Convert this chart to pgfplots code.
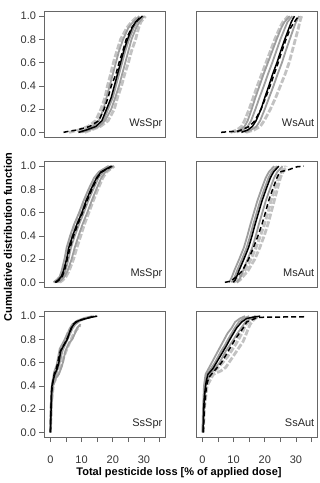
\documentclass[border=0pt]{standalone}
\usepackage{fontspec}
\setmainfont{Liberation Sans}
\usepackage{pgfplots}
\pgfplotsset{compat=1.18}
\definecolor{frm}{gray}{0.4}
\definecolor{gdk}{gray}{0.62}
\definecolor{glt}{gray}{0.76}
\pgfplotsset{
  panel/.style={width=121pt,height=125.5pt,scale only axis,
    xmin=-1.9,xmax=36.9,ymin=-0.04,ymax=1.04,
    axis line style={frm,line width=0.6pt},
    tick align=outside, major tick length=5pt,
    tick style={frm,line width=0.6pt},
    xtick={0,5,10,15,20,25,30,35}, xticklabels={0,,10,,20,,30,},
    ytick={0,0.2,0.4,0.6,0.8,1}, yticklabels={0.0,0.2,0.4,0.6,0.8,1.0},
    ticklabel style={font=\fontsize{11}{13}\selectfont, text=black!80},
    xticklabel style={yshift=-10pt},
    minor tick num=0, clip=true},
  leftcol/.style={ytick pos=left},
  rightcol/.style={ymajorticks=false},
  toprow/.style={xmajorticks=false},
  botrow/.style={xtick pos=bottom},
  gd/.style={gdk,line width=1.8pt,line join=round},
  gl/.style={glt,line width=2.8pt,dash pattern=on 6pt off 2pt,line join=round},
  bk/.style={black,line width=1.5pt,line join=round},
  bkd/.style={black,line width=1.5pt,dash pattern=on 5pt off 3pt,line join=round},
}
\newcommand{\plab}[1]{\node[anchor=base east,inner sep=0pt,font=\fontsize{11}{13}\selectfont,text=black!85,xshift=-3pt,yshift=10pt] at (rel axis cs:1,0) {#1};}
\begin{document}
\begin{tikzpicture}
\path[use as bounding box] (0pt,0pt) rectangle (320pt,483pt);
% ---------------- WsSpr
\begin{axis}[panel,leftcol,toprow,at={(44.5pt,346pt)}]
\addplot[gl] coordinates {(6,0)(9,0.02)(12,0.05)(14.5,0.1)(16.2,0.2)(17.5,0.3)(18.3,0.4)(19.3,0.5)(20.2,0.6)(21.3,0.7)(22.5,0.8)(24.5,0.9)(26,0.95)(28,1)};
\addplot[gl] coordinates {(11,0)(13,0.02)(16,0.05)(18.5,0.1)(20.5,0.2)(21.5,0.3)(22.8,0.4)(23.8,0.5)(25,0.6)(26,0.7)(27.3,0.8)(28.3,0.9)(29,0.95)(30.5,1)};
\addplot[gd] coordinates {(9,0)(11,0.02)(13.5,0.05)(15.5,0.1)(17,0.2)(18,0.3)(19,0.4)(20,0.5)(21,0.6)(22,0.7)(23.3,0.8)(25,0.9)(26.5,0.95)(28.5,1)};
\addplot[gd] coordinates {(10,0)(12.5,0.02)(15.5,0.05)(17.5,0.1)(19.5,0.2)(20.8,0.3)(22,0.4)(23,0.5)(24,0.6)(25,0.7)(26,0.8)(27.5,0.9)(28.5,0.95)(30,1)};
\addplot[gd] coordinates {(9.5,0)(12,0.02)(15,0.05)(17,0.1)(18.5,0.2)(20,0.3)(21,0.4)(22,0.5)(23,0.6)(24,0.7)(25.2,0.8)(26.7,0.9)(27.8,0.95)(29.8,1)};
\addplot[bkd] coordinates {(4.2,0)(6,0.01)(8.5,0.02)(12.5,0.05)(15.5,0.1)(17.2,0.2)(18.5,0.3)(19.5,0.4)(21,0.5)(22,0.6)(23.2,0.7)(24.3,0.8)(26,0.9)(27.5,0.95)(29,1)};
\addplot[bk] coordinates {(9,0)(11.5,0.02)(14.5,0.05)(16.5,0.1)(18,0.2)(19.5,0.3)(20.5,0.4)(21.5,0.5)(22.5,0.6)(23.5,0.7)(24.7,0.8)(26.2,0.9)(27.3,0.95)(29.5,1)};
\plab{WsSpr}
\end{axis}
% ---------------- WsAut
\begin{axis}[panel,rightcol,toprow,at={(196.5pt,346pt)}]
\addplot[gl] coordinates {(9,0)(11,0.02)(12.5,0.05)(13.5,0.1)(15,0.2)(16.3,0.3)(17.6,0.4)(19,0.5)(20.4,0.6)(21.8,0.7)(23.2,0.8)(24.8,0.9)(25.8,0.95)(27.5,1)};
\addplot[gl] coordinates {(14,0)(16.5,0.02)(18.5,0.05)(19.8,0.1)(21.8,0.2)(23.5,0.3)(25,0.4)(26.5,0.5)(27.8,0.6)(28.8,0.7)(29.8,0.8)(30.8,0.9)(31.2,0.95)(31.8,1)};
\addplot[gd] coordinates {(10,0)(12,0.02)(13.5,0.05)(14.5,0.1)(15.8,0.2)(17,0.3)(18.3,0.4)(19.6,0.5)(21,0.6)(22.4,0.7)(23.8,0.8)(25.3,0.9)(26.3,0.95)(28,1)};
\addplot[gd] coordinates {(11,0)(13,0.02)(14.5,0.05)(15.6,0.1)(17,0.2)(18.3,0.3)(19.7,0.4)(21,0.5)(22.4,0.6)(23.7,0.7)(25,0.8)(26.5,0.9)(27.3,0.95)(28.8,1)};
\addplot[gd] coordinates {(13.5,0)(15.5,0.02)(17.3,0.05)(18.5,0.1)(20,0.2)(21.4,0.3)(22.8,0.4)(24.1,0.5)(25.5,0.6)(26.7,0.7)(28,0.8)(29.3,0.9)(30,0.95)(31,1)};
\addplot[bkd] coordinates {(6,0)(8,0.005)(11.5,0.01)(15,0.05)(16.8,0.1)(18.8,0.2)(20.3,0.3)(21.7,0.4)(23,0.5)(24.3,0.6)(25.5,0.7)(26.8,0.8)(28.3,0.9)(29.5,0.95)(30.8,1)};
\addplot[bk] coordinates {(12.5,0)(14.5,0.02)(16,0.05)(17.2,0.1)(18.8,0.2)(20,0.3)(21.3,0.4)(22.5,0.5)(23.9,0.6)(25.1,0.7)(26.4,0.8)(27.8,0.9)(28.5,0.95)(29.5,1)};
\plab{WsAut}
\end{axis}
% ---------------- MsSpr
\begin{axis}[panel,leftcol,toprow,at={(44.5pt,196pt)}]
\addplot[gl] coordinates {(1.2,0)(2.2,0.02)(3.2,0.05)(3.9,0.1)(4.9,0.2)(5.6,0.3)(6.8,0.4)(8.2,0.5)(9.8,0.6)(11,0.7)(12.6,0.8)(14.4,0.9)(15.8,0.95)(19,1)};
\addplot[gl] coordinates {(3,0)(4,0.02)(5,0.05)(6,0.1)(7.4,0.2)(8.5,0.3)(9.7,0.4)(10.9,0.5)(12.3,0.6)(13.7,0.7)(15.2,0.8)(16.8,0.9)(18,0.95)(20.5,1)};
\addplot[gd] coordinates {(1,0)(2,0.02)(3,0.05)(3.6,0.1)(4.5,0.2)(5.2,0.3)(6.3,0.4)(7.6,0.5)(9.2,0.6)(10.6,0.7)(12.2,0.8)(14,0.9)(15.5,0.95)(18.5,1)};
\addplot[gd] coordinates {(2,0)(3,0.02)(4,0.05)(4.8,0.1)(5.8,0.2)(6.6,0.3)(7.8,0.4)(9.2,0.5)(10.7,0.6)(12.1,0.7)(13.7,0.8)(15.4,0.9)(16.8,0.95)(20,1)};
\addplot[gd] coordinates {(2.5,0)(3.5,0.02)(4.5,0.05)(5.5,0.1)(6.8,0.2)(7.8,0.3)(9,0.4)(10.3,0.5)(11.8,0.6)(13.2,0.7)(14.7,0.8)(16.3,0.9)(17.6,0.95)(20.3,1)};
\addplot[bkd] coordinates {(1.8,0)(2.8,0.02)(3.8,0.05)(4.5,0.1)(5.4,0.2)(6.3,0.3)(7.4,0.4)(8.8,0.5)(10.3,0.6)(11.7,0.7)(13.3,0.8)(15,0.9)(16.5,0.95)(19.8,1)};
\addplot[bk] coordinates {(1.5,0)(2.5,0.02)(3.5,0.05)(4.2,0.1)(5.2,0.2)(5.9,0.3)(7.1,0.4)(8.5,0.5)(10.1,0.6)(11.4,0.7)(13,0.8)(14.8,0.9)(16.2,0.95)(19.5,1)};
\plab{MsSpr}
\end{axis}
% ---------------- MsAut
\begin{axis}[panel,rightcol,toprow,at={(196.5pt,196pt)}]
\addplot[gl] coordinates {(10,0)(11,0.02)(12,0.05)(13.6,0.1)(15.6,0.2)(17.2,0.3)(18.6,0.4)(19.9,0.5)(21,0.6)(22,0.7)(23.1,0.8)(24.4,0.9)(25.3,0.95)(26.5,1)};
\addplot[gl] coordinates {(11,0)(12,0.02)(13,0.05)(14.6,0.1)(16.8,0.2)(18.4,0.3)(19.8,0.4)(21,0.5)(22,0.6)(23,0.7)(24,0.8)(25,0.9)(25.8,0.95)(27,1)};
\addplot[gd] coordinates {(8.5,0)(9,0.02)(9.5,0.05)(10.2,0.1)(11.8,0.2)(13.3,0.3)(14.4,0.4)(15.4,0.5)(16.5,0.6)(17.6,0.7)(18.9,0.8)(20.3,0.9)(21.3,0.95)(23,1)};
\addplot[gd] coordinates {(9.3,0)(9.9,0.02)(10.4,0.05)(11.1,0.1)(12.7,0.2)(14.2,0.3)(15.3,0.4)(16.3,0.5)(17.4,0.6)(18.5,0.7)(19.8,0.8)(21.2,0.9)(22.2,0.95)(23.9,1)};
\addplot[gd] coordinates {(11,0)(11.7,0.02)(12.3,0.05)(13,0.1)(14.5,0.2)(16,0.3)(17.1,0.4)(18.1,0.5)(19.2,0.6)(20.3,0.7)(21.6,0.8)(23,0.9)(24,0.95)(25.7,1)};
\addplot[bkd] coordinates {(7.2,0)(9,0.01)(11,0.05)(12.8,0.1)(14.8,0.2)(16.4,0.3)(17.8,0.4)(19.1,0.5)(20.2,0.6)(21.2,0.7)(22.5,0.8)(23.9,0.9)(24.8,0.95)(27.7,0.97)(30.4,0.995)(32.5,1)};
\addplot[bk] coordinates {(9.9,0)(10.5,0.02)(11,0.05)(11.7,0.1)(13.3,0.2)(14.8,0.3)(15.9,0.4)(16.9,0.5)(18,0.6)(19.1,0.7)(20.4,0.8)(21.8,0.9)(22.8,0.95)(24.5,1)};
\plab{MsAut}
\end{axis}
% ---------------- SsSpr
\begin{axis}[panel,leftcol,botrow,at={(44.5pt,46pt)}]
\addplot[gl] coordinates {(0,0)(0.2,0.2)(0.5,0.4)(1.3,0.48)(2.2,0.55)(3,0.63)(3.7,0.7)(4.5,0.78)(5.5,0.85)(6.5,0.9)(7.5,0.93)(9,0.96)};
\addplot[gl] coordinates {(0,0)(0.3,0.25)(1,0.42)(2.4,0.5)(3.5,0.57)(4.3,0.65)(5.3,0.72)(6.3,0.78)(7.3,0.84)(8.3,0.88)(9.5,0.92)};
\addplot[gd] coordinates {(0,0)(0.1,0.2)(0.3,0.35)(0.6,0.43)(1.2,0.52)(2,0.58)(2.5,0.65)(3,0.72)(4,0.77)(5,0.82)(6,0.88)(7,0.93)(8.5,0.96)(11,0.985)(13.5,1)};
\addplot[gd] coordinates {(0,0)(0.2,0.2)(0.5,0.35)(1,0.42)(1.7,0.5)(2.5,0.56)(3.2,0.62)(3.8,0.7)(4.8,0.76)(6,0.83)(7,0.89)(8,0.93)(9.5,0.96)(12,0.985)(14,1)};
\addplot[gd] coordinates {(0,0)(0.3,0.2)(0.8,0.4)(1.8,0.47)(2.7,0.5)(3.4,0.55)(4,0.6)(4.8,0.7)(6,0.77)(7,0.8)(8,0.86)(8.6,0.9)(9.7,0.93)};
\addplot[bkd] coordinates {(0,0)(0.15,0.2)(0.4,0.35)(0.7,0.42)(1.2,0.5)(2,0.56)(2.5,0.62)(3.2,0.7)(4.5,0.76)(5.6,0.82)(6.5,0.88)(7.3,0.93)(9,0.96)(12,0.985)(14.5,1)};
\addplot[bk] coordinates {(0,0)(0.1,0.1)(0.2,0.2)(0.3,0.3)(0.5,0.4)(0.9,0.45)(1.4,0.5)(2.2,0.55)(2.7,0.6)(3,0.65)(3.3,0.7)(4.3,0.75)(5.4,0.8)(6,0.85)(6.7,0.9)(8.1,0.95)(10,0.97)(13,0.99)(15,1)};
\plab{SsSpr}
\end{axis}
% ---------------- SsAut
\begin{axis}[panel,rightcol,botrow,at={(196.5pt,46pt)}]
\addplot[gl] coordinates {(0.3,0)(0.6,0.2)(1.5,0.4)(3.5,0.5)(6,0.53)(7.5,0.56)(9,0.62)(10.5,0.68)(12,0.74)(13,0.78)(13.8,0.83)(14.5,0.88)(15.3,0.93)(16.5,0.97)(18,1)};
\addplot[gl] coordinates {(0.2,0)(0.5,0.2)(1.2,0.4)(2.8,0.5)(4.8,0.55)(6.5,0.6)(8,0.65)(9.3,0.7)(10.5,0.75)(11.6,0.8)(12.8,0.86)(13.8,0.92)(15,0.96)(16.5,0.99)(17.5,1)};
\addplot[gd] coordinates {(0,0)(0.2,0.2)(0.5,0.4)(1,0.5)(2,0.55)(3,0.6)(4,0.65)(5,0.7)(6,0.75)(7,0.8)(8,0.85)(9.4,0.9)(10.5,0.95)(12,0.98)(13.7,1)};
\addplot[gd] coordinates {(0.1,0)(0.3,0.2)(0.7,0.4)(1.5,0.5)(2.8,0.55)(4,0.6)(5,0.65)(6,0.7)(7.2,0.75)(8.2,0.8)(9.3,0.85)(10.4,0.9)(11.7,0.95)(13.2,0.98)(15,1)};
\addplot[gd] coordinates {(0.2,0)(0.5,0.2)(1,0.4)(2.5,0.5)(4,0.55)(5.5,0.6)(6.5,0.65)(7.5,0.7)(8.8,0.75)(10,0.8)(11.2,0.85)(12.5,0.9)(13.8,0.95)(15.5,0.98)(17,1)};
\addplot[bkd] coordinates {(0.3,0)(0.6,0.2)(1.3,0.4)(2,0.47)(2.9,0.5)(4.5,0.55)(6.1,0.6)(7.2,0.65)(8.3,0.7)(9.4,0.75)(10.5,0.8)(11.8,0.85)(13.1,0.9)(14.2,0.95)(16.9,0.98)(18,0.99)(33,0.995)};
\addplot[bk] coordinates {(0.2,0)(0.3,0.1)(0.4,0.2)(0.6,0.3)(1,0.4)(1.3,0.45)(1.8,0.5)(3.4,0.55)(4.5,0.6)(5.6,0.65)(6.7,0.7)(7.8,0.75)(8.8,0.8)(9.9,0.85)(11,0.9)(12.6,0.95)(14.2,0.98)(16,0.99)(18.5,1)};
\plab{SsAut}
\end{axis}
\node[rotate=90,font=\bfseries\fontsize{11}{13}\selectfont] at (8pt,246pt) {Cumulative distribution function};
\node[font=\bfseries\fontsize{11}{13}\selectfont] at (179pt,10.5pt) {Total pesticide loss [\% of applied dose]};
\end{tikzpicture}
\end{document}
